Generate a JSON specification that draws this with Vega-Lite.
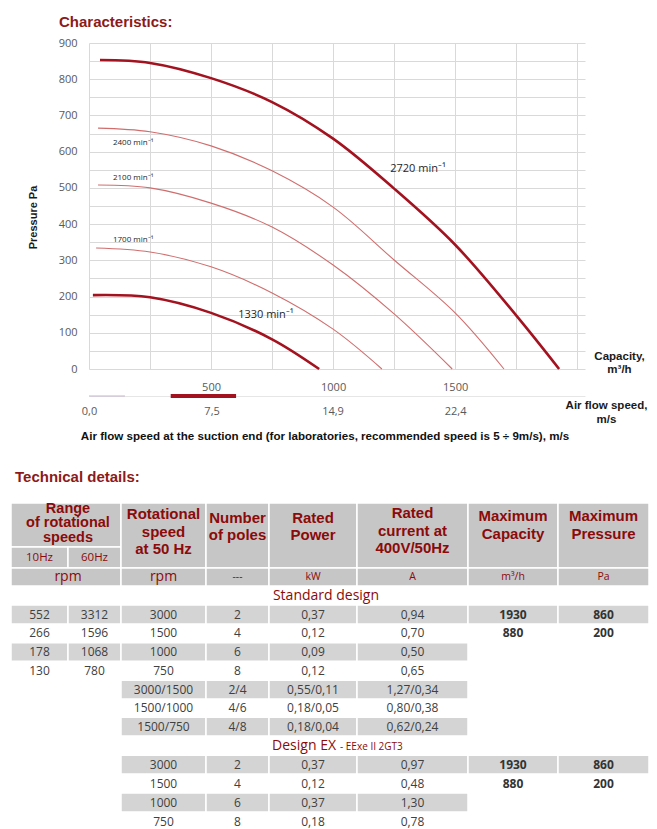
{
  "$schema": "https://vega.github.io/schema/vega-lite/v6.json",
  "background": "white",
  "padding": {"left": 10, "top": 15, "right": 0, "bottom": 0},
  "config": {"view": {"stroke": null}, "text": {"font": "Open Sans"}},
  "datasets": {
    "curves": [
      {"rpm": "2720", "q": 45, "p": 853}, {"rpm": "2720", "q": 250, "p": 845}, {"rpm": "2720", "q": 500, "p": 803}, {"rpm": "2720", "q": 750, "p": 737}, {"rpm": "2720", "q": 1000, "p": 636}, {"rpm": "2720", "q": 1250, "p": 498}, {"rpm": "2720", "q": 1500, "p": 343}, {"rpm": "2720", "q": 1750, "p": 148}, {"rpm": "2720", "q": 1926, "p": 0},
      {"rpm": "2400", "q": 37, "p": 665}, {"rpm": "2400", "q": 250, "p": 655}, {"rpm": "2400", "q": 500, "p": 616}, {"rpm": "2400", "q": 750, "p": 547}, {"rpm": "2400", "q": 1000, "p": 447}, {"rpm": "2400", "q": 1250, "p": 301}, {"rpm": "2400", "q": 1500, "p": 155}, {"rpm": "2400", "q": 1700, "p": 0},
      {"rpm": "2100", "q": 37, "p": 508}, {"rpm": "2100", "q": 250, "p": 500}, {"rpm": "2100", "q": 500, "p": 458}, {"rpm": "2100", "q": 750, "p": 392}, {"rpm": "2100", "q": 1000, "p": 287}, {"rpm": "2100", "q": 1250, "p": 152}, {"rpm": "2100", "q": 1488, "p": 0},
      {"rpm": "1700", "q": 29, "p": 334}, {"rpm": "1700", "q": 250, "p": 323}, {"rpm": "1700", "q": 500, "p": 282}, {"rpm": "1700", "q": 750, "p": 210}, {"rpm": "1700", "q": 1000, "p": 110}, {"rpm": "1700", "q": 1200, "p": 0},
      {"rpm": "1330", "q": 16, "p": 204}, {"rpm": "1330", "q": 250, "p": 198}, {"rpm": "1330", "q": 500, "p": 155}, {"rpm": "1330", "q": 750, "p": 82}, {"rpm": "1330", "q": 943, "p": 0}
    ],
    "curveLabels": [
      {"rpm": "2720", "label": "2720 min⁻¹", "q": 1234, "p": 544},
      {"rpm": "1330", "label": "1330 min⁻¹", "q": 611, "p": 141},
      {"rpm": "2400", "label": "2400 min⁻¹", "q": 98, "p": 618},
      {"rpm": "2100", "label": "2100 min⁻¹", "q": 98, "p": 522},
      {"rpm": "1700", "label": "1700 min⁻¹", "q": 98, "p": 351}
    ],
    "speedBands": [
      {"zone": "low", "from": 0, "to": 2.2},
      {"zone": "recommended", "from": 5, "to": 9}
    ],
    "headerCells": [
      {"c0": 0, "c1": 2, "r0": 0, "r1": 1}, {"c0": 0, "c1": 1, "r0": 1, "r1": 2}, {"c0": 1, "c1": 2, "r0": 1, "r1": 2},
      {"c0": 2, "c1": 3, "r0": 0, "r1": 2}, {"c0": 3, "c1": 4, "r0": 0, "r1": 2}, {"c0": 4, "c1": 5, "r0": 0, "r1": 2},
      {"c0": 5, "c1": 6, "r0": 0, "r1": 2}, {"c0": 6, "c1": 7, "r0": 0, "r1": 2}, {"c0": 7, "c1": 8, "r0": 0, "r1": 2},
      {"c0": 0, "c1": 2, "r0": 2, "r1": 3}, {"c0": 2, "c1": 3, "r0": 2, "r1": 3}, {"c0": 3, "c1": 4, "r0": 2, "r1": 3},
      {"c0": 4, "c1": 5, "r0": 2, "r1": 3}, {"c0": 5, "c1": 6, "r0": 2, "r1": 3}, {"c0": 6, "c1": 7, "r0": 2, "r1": 3}, {"c0": 7, "c1": 8, "r0": 2, "r1": 3}
    ],
    "bodyCells": [
      {"c0": 0, "c1": 1, "r0": 4, "r1": 5}, {"c0": 1, "c1": 2, "r0": 4, "r1": 5}, {"c0": 2, "c1": 3, "r0": 4, "r1": 5}, {"c0": 3, "c1": 4, "r0": 4, "r1": 5}, {"c0": 4, "c1": 5, "r0": 4, "r1": 5}, {"c0": 5, "c1": 6, "r0": 4, "r1": 5}, {"c0": 6, "c1": 7, "r0": 4, "r1": 5}, {"c0": 7, "c1": 8, "r0": 4, "r1": 5},
      {"c0": 0, "c1": 1, "r0": 6, "r1": 7}, {"c0": 1, "c1": 2, "r0": 6, "r1": 7}, {"c0": 2, "c1": 3, "r0": 6, "r1": 7}, {"c0": 3, "c1": 4, "r0": 6, "r1": 7}, {"c0": 4, "c1": 5, "r0": 6, "r1": 7}, {"c0": 5, "c1": 6, "r0": 6, "r1": 7},
      {"c0": 2, "c1": 3, "r0": 8, "r1": 9}, {"c0": 3, "c1": 4, "r0": 8, "r1": 9}, {"c0": 4, "c1": 5, "r0": 8, "r1": 9}, {"c0": 5, "c1": 6, "r0": 8, "r1": 9},
      {"c0": 2, "c1": 3, "r0": 10, "r1": 11}, {"c0": 3, "c1": 4, "r0": 10, "r1": 11}, {"c0": 4, "c1": 5, "r0": 10, "r1": 11}, {"c0": 5, "c1": 6, "r0": 10, "r1": 11},
      {"c0": 2, "c1": 3, "r0": 12, "r1": 13}, {"c0": 3, "c1": 4, "r0": 12, "r1": 13}, {"c0": 4, "c1": 5, "r0": 12, "r1": 13}, {"c0": 5, "c1": 6, "r0": 12, "r1": 13}, {"c0": 6, "c1": 7, "r0": 12, "r1": 13}, {"c0": 7, "c1": 8, "r0": 12, "r1": 13},
      {"c0": 2, "c1": 3, "r0": 14, "r1": 15}, {"c0": 3, "c1": 4, "r0": 14, "r1": 15}, {"c0": 4, "c1": 5, "r0": 14, "r1": 15}, {"c0": 5, "c1": 6, "r0": 14, "r1": 15}
    ],
    "headerTitles": [
      {"t": "Rotational\nspeed\nat 50 Hz", "cx": 2.5, "cy": 0.26},
      {"t": "Number\nof poles", "cx": 3.5, "cy": 0.34},
      {"t": "Rated\nPower", "cx": 4.5, "cy": 0.34},
      {"t": "Rated\ncurrent at\n400V/50Hz", "cx": 5.5, "cy": 0.23},
      {"t": "Maximum\nCapacity", "cx": 6.5, "cy": 0.3},
      {"t": "Maximum\nPressure", "cx": 7.5, "cy": 0.3}
    ],
    "rangeTitle": [{"t": "Range\nof rotational\nspeeds", "cx": 1, "cy": 0.13}],
    "headerSub": [{"t": "10Hz", "cx": 0.5, "cy": 1.5}, {"t": "60Hz", "cx": 1.5, "cy": 1.5}],
    "unitsBig": [{"t": "rpm", "cx": 1, "cy": 2.5}, {"t": "rpm", "cx": 2.5, "cy": 2.5}],
    "unitsSmall": [{"t": "---", "cx": 3.5, "cy": 2.5}, {"t": "kW", "cx": 4.5, "cy": 2.5}, {"t": "A", "cx": 5.5, "cy": 2.5}, {"t": "m³/h", "cx": 6.5, "cy": 2.5}, {"t": "Pa", "cx": 7.5, "cy": 2.5}],
    "sections": [
      {"t": "Standard design", "cx": 4.5, "cy": 3.5},
      {"t": "Design EX", "cx": 4.5, "cy": 11.5},
      {"t": "- EExe II 2GT3", "cx": 4.5, "cy": 11.5}
    ],
    "body": [
      {"cy": 4.5, "cx": 0.5, "v": "552"}, {"cy": 4.5, "cx": 1.5, "v": "3312"}, {"cy": 4.5, "cx": 2.5, "v": "3000"}, {"cy": 4.5, "cx": 3.5, "v": "2"}, {"cy": 4.5, "cx": 4.5, "v": "0,37"}, {"cy": 4.5, "cx": 5.5, "v": "0,94"}, {"cy": 4.5, "cx": 6.5, "v": "1930"}, {"cy": 4.5, "cx": 7.5, "v": "860"},
      {"cy": 5.5, "cx": 0.5, "v": "266"}, {"cy": 5.5, "cx": 1.5, "v": "1596"}, {"cy": 5.5, "cx": 2.5, "v": "1500"}, {"cy": 5.5, "cx": 3.5, "v": "4"}, {"cy": 5.5, "cx": 4.5, "v": "0,12"}, {"cy": 5.5, "cx": 5.5, "v": "0,70"}, {"cy": 5.5, "cx": 6.5, "v": "880"}, {"cy": 5.5, "cx": 7.5, "v": "200"},
      {"cy": 6.5, "cx": 0.5, "v": "178"}, {"cy": 6.5, "cx": 1.5, "v": "1068"}, {"cy": 6.5, "cx": 2.5, "v": "1000"}, {"cy": 6.5, "cx": 3.5, "v": "6"}, {"cy": 6.5, "cx": 4.5, "v": "0,09"}, {"cy": 6.5, "cx": 5.5, "v": "0,50"},
      {"cy": 7.5, "cx": 0.5, "v": "130"}, {"cy": 7.5, "cx": 1.5, "v": "780"}, {"cy": 7.5, "cx": 2.5, "v": "750"}, {"cy": 7.5, "cx": 3.5, "v": "8"}, {"cy": 7.5, "cx": 4.5, "v": "0,12"}, {"cy": 7.5, "cx": 5.5, "v": "0,65"},
      {"cy": 8.5, "cx": 2.5, "v": "3000/1500"}, {"cy": 8.5, "cx": 3.5, "v": "2/4"}, {"cy": 8.5, "cx": 4.5, "v": "0,55/0,11"}, {"cy": 8.5, "cx": 5.5, "v": "1,27/0,34"},
      {"cy": 9.5, "cx": 2.5, "v": "1500/1000"}, {"cy": 9.5, "cx": 3.5, "v": "4/6"}, {"cy": 9.5, "cx": 4.5, "v": "0,18/0,05"}, {"cy": 9.5, "cx": 5.5, "v": "0,80/0,38"},
      {"cy": 10.5, "cx": 2.5, "v": "1500/750"}, {"cy": 10.5, "cx": 3.5, "v": "4/8"}, {"cy": 10.5, "cx": 4.5, "v": "0,18/0,04"}, {"cy": 10.5, "cx": 5.5, "v": "0,62/0,24"},
      {"cy": 12.5, "cx": 2.5, "v": "3000"}, {"cy": 12.5, "cx": 3.5, "v": "2"}, {"cy": 12.5, "cx": 4.5, "v": "0,37"}, {"cy": 12.5, "cx": 5.5, "v": "0,97"}, {"cy": 12.5, "cx": 6.5, "v": "1930"}, {"cy": 12.5, "cx": 7.5, "v": "860"},
      {"cy": 13.5, "cx": 2.5, "v": "1500"}, {"cy": 13.5, "cx": 3.5, "v": "4"}, {"cy": 13.5, "cx": 4.5, "v": "0,12"}, {"cy": 13.5, "cx": 5.5, "v": "0,48"}, {"cy": 13.5, "cx": 6.5, "v": "880"}, {"cy": 13.5, "cx": 7.5, "v": "200"},
      {"cy": 14.5, "cx": 2.5, "v": "1000"}, {"cy": 14.5, "cx": 3.5, "v": "6"}, {"cy": 14.5, "cx": 4.5, "v": "0,37"}, {"cy": 14.5, "cx": 5.5, "v": "1,30"},
      {"cy": 15.5, "cx": 2.5, "v": "750"}, {"cy": 15.5, "cx": 3.5, "v": "8"}, {"cy": 15.5, "cx": 4.5, "v": "0,18"}, {"cy": 15.5, "cx": 5.5, "v": "0,78"}
    ]
  },
  "spacing": 26,
  "vconcat": [
    {
      "spacing": 0,
      "vconcat": [
        {
          "width": 496,
          "height": 326,
          "title": {"text": "Characteristics:", "anchor": "start", "frame": "group", "dx": -30, "offset": 7, "font": "Liberation Sans", "fontSize": 15, "fontWeight": "bold", "color": "#8c1a1a"},
          "encoding": {
            "x": {
              "field": "q", "type": "quantitative",
              "scale": {"domain": [0, 2032], "nice": false, "zero": false},
              "axis": {
                "values": [0, 250, 500, 750, 1000, 1250, 1500, 1750, 2000],
                "format": "d",
                "labelExpr": "datum.value == 500 || datum.value == 1000 || datum.value == 1500 ? datum.label : ''",
                "grid": true, "gridColor": "#d9d9d9", "gridWidth": 1,
                "domain": false, "ticks": false,
                "labelPadding": 12, "labelFont": "Open Sans", "labelFontSize": 11, "labelColor": "#595959", "labelOverlap": false, "labelFlush": false,
                "title": ["Capacity,", "m³/h"], "titleX": 530, "titleY": -10, "titleAlign": "center", "titleBaseline": "alphabetic",
                "titleFont": "Liberation Sans", "titleFontSize": 11.5, "titleFontWeight": "bold", "titleColor": "#1a1a1a", "titleLineHeight": 13
              }
            },
            "y": {
              "field": "p", "type": "quantitative",
              "scale": {"domain": [0, 900], "nice": false},
              "axis": {
                "values": [0, 50, 100, 150, 200, 250, 300, 350, 400, 450, 500, 550, 600, 650, 700, 750, 800, 850, 900],
                "labelExpr": "datum.value % 100 == 0 ? datum.label : ''",
                "grid": true, "gridColor": "#d9d9d9", "gridWidth": 1,
                "domain": false, "ticks": false,
                "labelPadding": 12, "labelFont": "Open Sans", "labelFontSize": 11, "labelColor": "#595959", "labelOverlap": false,
                "title": "Pressure Pa", "titleX": -56, "titleY": 174, "titleAngle": -90, "titleAlign": "center", "titleBaseline": "middle",
                "titleFont": "Liberation Sans", "titleFontSize": 11, "titleFontWeight": "bold", "titleColor": "#1a1a1a"
              }
            }
          },
          "layer": [
            {
              "data": {"name": "curves"},
              "transform": [{"filter": "datum.rpm != '2720' && datum.rpm != '1330'"}],
              "mark": {"type": "line", "interpolate": "catmull-rom", "color": "#d06e6e", "strokeWidth": 1.1},
              "encoding": {"detail": {"field": "rpm", "type": "nominal"}}
            },
            {
              "data": {"name": "curves"},
              "transform": [{"filter": "datum.rpm == '2720' || datum.rpm == '1330'"}],
              "mark": {"type": "line", "interpolate": "catmull-rom", "color": "#a3121f", "strokeWidth": 2.6},
              "encoding": {"detail": {"field": "rpm", "type": "nominal"}}
            },
            {
              "data": {"name": "curveLabels"},
              "transform": [{"filter": "datum.rpm == '2720' || datum.rpm == '1330'"}],
              "mark": {"type": "text", "align": "left", "baseline": "alphabetic", "font": "Open Sans", "fontSize": 11, "color": "#262626"},
              "encoding": {"text": {"field": "label"}}
            },
            {
              "data": {"name": "curveLabels"},
              "transform": [{"filter": "datum.rpm != '2720' && datum.rpm != '1330'"}],
              "mark": {"type": "text", "align": "left", "baseline": "alphabetic", "font": "Open Sans", "fontSize": 8, "color": "#262626"},
              "encoding": {"text": {"field": "label"}}
            }
          ]
        },
        {
          "width": 496,
          "height": 8,
          "data": {"name": "speedBands"},
          "title": {"text": "Air flow speed at the suction end (for laboratories, recommended speed is 5 ÷ 9m/s), m/s", "orient": "bottom", "anchor": "middle", "frame": "group", "dx": -12, "offset": 6, "font": "Liberation Sans", "fontSize": 11.6, "fontWeight": "bold", "color": "#111111"},
          "encoding": {
            "x": {
              "field": "from", "type": "quantitative",
              "scale": {"domain": [0, 30.35], "nice": false, "zero": false},
              "axis": {
                "values": [0, 7.5, 14.9, 22.4],
                "labelExpr": "replace(format(datum.value, '.1f'), '.', ',')",
                "offset": -4,
                "domain": true, "domainColor": "#e6e6e6", "domainWidth": 1,
                "ticks": false, "grid": false,
                "labelPadding": 9, "labelFont": "Open Sans", "labelFontSize": 11, "labelColor": "#595959", "labelOverlap": false, "labelFlush": false,
                "title": ["Air flow speed,", "m/s"], "titleX": 517, "titleY": 12, "titleAlign": "center", "titleBaseline": "alphabetic",
                "titleFont": "Liberation Sans", "titleFontSize": 11.5, "titleFontWeight": "bold", "titleColor": "#1a1a1a", "titleLineHeight": 14
              }
            },
            "x2": {"field": "to"}
          },
          "layer": [
            {"transform": [{"filter": "datum.zone == 'low'"}], "mark": {"type": "rule", "strokeWidth": 1, "color": "#c6b3cf"}},
            {"transform": [{"filter": "datum.zone == 'recommended'"}], "mark": {"type": "rule", "strokeWidth": 4, "color": "#a3121f"}}
          ]
        }
      ]
    },
    {
      "width": 560,
      "height": 328,
      "title": {"text": "Technical details:", "anchor": "start", "frame": "group", "dx": -74, "offset": 16, "font": "Liberation Sans", "fontSize": 15, "fontWeight": "bold", "color": "#8c1a1a"},
      "layer": [
        {
          "data": {"name": "headerCells"},
          "mark": {"type": "rect", "color": "#c6c6c6", "stroke": "white", "strokeWidth": 1.5},
          "encoding": {
            "x": {"field": "c0", "type": "quantitative", "scale": {"domain": [0, 1, 2, 3, 4, 5, 6, 7, 8], "range": [-78, -21, 32, 117, 180, 268, 379, 469, 560], "nice": false, "zero": false}, "axis": null},
            "x2": {"field": "c1"},
            "y": {"field": "r0", "type": "quantitative", "scale": {"domain": [0, 1, 2, 3, 4, 5, 6, 7, 8, 9, 10, 11, 12, 13, 14, 15, 16], "range": [0, 44, 65, 83, 102, 121, 139.7, 158.3, 177.3, 196, 214.3, 233, 252.3, 271, 290, 309, 328], "nice": false, "zero": false}, "axis": null},
            "y2": {"field": "r1"}
          }
        },
        {
          "data": {"name": "bodyCells"},
          "mark": {"type": "rect", "color": "#d4d4d4", "stroke": "white", "strokeWidth": 1.5},
          "encoding": {
            "x": {"field": "c0", "type": "quantitative", "axis": null},
            "x2": {"field": "c1"},
            "y": {"field": "r0", "type": "quantitative", "axis": null},
            "y2": {"field": "r1"}
          }
        },
        {
          "data": {"name": "headerTitles"},
          "mark": {"type": "text", "font": "Liberation Sans", "fontSize": 15, "fontWeight": "bold", "color": "#8b0a0a", "align": "center", "baseline": "middle", "lineBreak": "\n", "lineHeight": 17.5},
          "encoding": {
            "x": {"field": "cx", "type": "quantitative", "axis": null},
            "y": {"field": "cy", "type": "quantitative", "axis": null},
            "text": {"field": "t"}
          }
        },
        {
          "data": {"name": "rangeTitle"},
          "mark": {"type": "text", "font": "Liberation Sans", "fontSize": 14.5, "fontWeight": "bold", "color": "#8b0a0a", "align": "center", "baseline": "middle", "lineBreak": "\n", "lineHeight": 14.5},
          "encoding": {
            "x": {"field": "cx", "type": "quantitative", "axis": null},
            "y": {"field": "cy", "type": "quantitative", "axis": null},
            "text": {"field": "t"}
          }
        },
        {
          "data": {"name": "headerSub"},
          "mark": {"type": "text", "font": "Open Sans", "fontSize": 11.5, "color": "#8b0a0a", "align": "center", "baseline": "middle"},
          "encoding": {
            "x": {"field": "cx", "type": "quantitative", "axis": null},
            "y": {"field": "cy", "type": "quantitative", "axis": null},
            "text": {"field": "t"}
          }
        },
        {
          "data": {"name": "unitsBig"},
          "mark": {"type": "text", "font": "Open Sans", "fontSize": 14, "color": "#8b0a0a", "align": "center", "baseline": "middle"},
          "encoding": {
            "x": {"field": "cx", "type": "quantitative", "axis": null},
            "y": {"field": "cy", "type": "quantitative", "axis": null},
            "text": {"field": "t"}
          }
        },
        {
          "data": {"name": "unitsSmall"},
          "mark": {"type": "text", "font": "Open Sans", "fontSize": 10.5, "color": "#8b0a0a", "align": "center", "baseline": "middle"},
          "encoding": {
            "x": {"field": "cx", "type": "quantitative", "axis": null},
            "y": {"field": "cy", "type": "quantitative", "axis": null},
            "text": {"field": "t"}
          }
        },
        {
          "data": {"name": "sections"},
          "transform": [{"filter": "datum.t == 'Standard design'"}],
          "mark": {"type": "text", "font": "Open Sans", "fontSize": 14, "color": "#8b0a0a", "align": "center", "baseline": "alphabetic", "dx": 13, "dy": 4},
          "encoding": {
            "x": {"field": "cx", "type": "quantitative", "axis": null},
            "y": {"field": "cy", "type": "quantitative", "axis": null},
            "text": {"field": "t"}
          }
        },
        {
          "data": {"name": "sections"},
          "transform": [{"filter": "datum.t == 'Design EX'"}],
          "mark": {"type": "text", "font": "Open Sans", "fontSize": 14, "color": "#8b0a0a", "align": "right", "baseline": "alphabetic", "dx": 23, "dy": 4},
          "encoding": {
            "x": {"field": "cx", "type": "quantitative", "axis": null},
            "y": {"field": "cy", "type": "quantitative", "axis": null},
            "text": {"field": "t"}
          }
        },
        {
          "data": {"name": "sections"},
          "transform": [{"filter": "datum.t == '- EExe II 2GT3'"}],
          "mark": {"type": "text", "font": "Open Sans", "fontSize": 10, "color": "#8b0a0a", "align": "left", "baseline": "alphabetic", "dx": 27, "dy": 4},
          "encoding": {
            "x": {"field": "cx", "type": "quantitative", "axis": null},
            "y": {"field": "cy", "type": "quantitative", "axis": null},
            "text": {"field": "t"}
          }
        },
        {
          "data": {"name": "body"},
          "transform": [{"filter": "datum.cx < 6"}],
          "mark": {"type": "text", "font": "Open Sans", "fontSize": 12, "color": "#404040", "align": "center", "baseline": "middle"},
          "encoding": {
            "x": {"field": "cx", "type": "quantitative", "axis": null},
            "y": {"field": "cy", "type": "quantitative", "axis": null},
            "text": {"field": "v"}
          }
        },
        {
          "data": {"name": "body"},
          "transform": [{"filter": "datum.cx > 6"}],
          "mark": {"type": "text", "font": "Open Sans", "fontSize": 12, "fontWeight": "bold", "color": "#333333", "align": "center", "baseline": "middle"},
          "encoding": {
            "x": {"field": "cx", "type": "quantitative", "axis": null},
            "y": {"field": "cy", "type": "quantitative", "axis": null},
            "text": {"field": "v"}
          }
        }
      ]
    }
  ]
}
